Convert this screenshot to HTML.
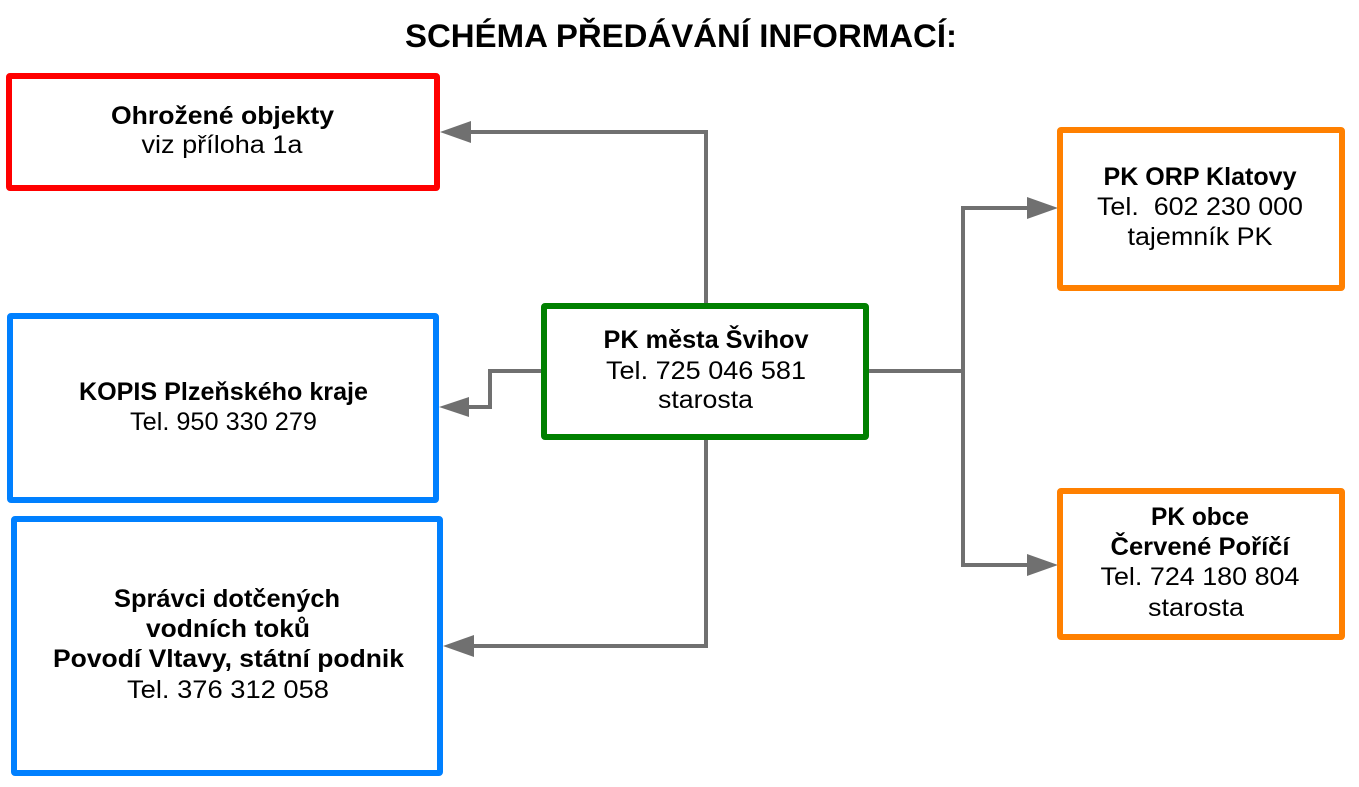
<!DOCTYPE html>
<html>
<head>
<meta charset="utf-8">
<style>
html,body{margin:0;padding:0;background:#fff;}
svg{display:block;}
text{font-family:"Liberation Sans","DejaVu Sans",sans-serif;fill:#000;}
.b{font-weight:bold;}
</style>
</head>
<body>
<svg width="1359" height="787" viewBox="0 0 1359 787" xmlns="http://www.w3.org/2000/svg">
<rect width="1359" height="787" fill="#fff"/>

<!-- Title -->
<text x="681" y="47" class="b" font-size="32" text-anchor="middle" textLength="552" lengthAdjust="spacingAndGlyphs">SCHÉMA PŘEDÁVÁNÍ INFORMACÍ:</text>

<!-- Connectors -->
<g stroke="#707070" stroke-width="4" fill="none" stroke-linejoin="miter">
  <path d="M706 303 V132 H470"/>
  <path d="M541 371 H490 V407 H468"/>
  <path d="M706 440 V646 H474"/>
  <path d="M869 371 H963"/>
  <path d="M963 208 V565"/>
  <path d="M961 208 H1028"/>
  <path d="M961 565 H1028"/>
</g>
<g fill="#707070">
  <polygon points="440,132 471,121 471,143"/>
  <polygon points="439,407 469,397 469,417"/>
  <polygon points="443,646 474,635 474,657"/>
  <polygon points="1058,208 1027,197 1027,219"/>
  <polygon points="1058,565 1027,554 1027,576"/>
</g>

<!-- Boxes -->
<g fill="#fff" stroke-width="6">
  <rect x="9" y="76" width="428" height="112" rx="1" stroke="#ff0000"/>
  <rect x="10" y="316" width="426" height="184" rx="1" stroke="#0080ff"/>
  <rect x="14" y="519" width="426" height="254" rx="1" stroke="#0080ff"/>
  <rect x="544" y="306" width="322" height="131" rx="1" stroke="#008000"/>
  <rect x="1060" y="130" width="282" height="158" rx="1" stroke="#ff8000"/>
  <rect x="1060" y="491" width="282" height="146" rx="1" stroke="#ff8000"/>
</g>

<!-- Red box text -->
<text x="222.5" y="124" class="b" font-size="25" text-anchor="middle" textLength="223" lengthAdjust="spacingAndGlyphs">Ohrožené objekty</text>
<text x="222" y="153" font-size="25" text-anchor="middle" textLength="161" lengthAdjust="spacingAndGlyphs">viz příloha 1a</text>

<!-- Blue box 1 text -->
<text x="223.5" y="400" class="b" font-size="25" text-anchor="middle" textLength="289" lengthAdjust="spacingAndGlyphs">KOPIS Plzeňského kraje</text>
<text x="223.5" y="430" font-size="25" text-anchor="middle" textLength="187" lengthAdjust="spacingAndGlyphs">Tel. 950 330 279</text>

<!-- Blue box 2 text -->
<text x="227" y="607" class="b" font-size="25" text-anchor="middle" textLength="226" lengthAdjust="spacingAndGlyphs">Správci dotčených</text>
<text x="228" y="637" class="b" font-size="25" text-anchor="middle" textLength="164" lengthAdjust="spacingAndGlyphs">vodních toků</text>
<text x="228.5" y="667" class="b" font-size="25" text-anchor="middle" textLength="351" lengthAdjust="spacingAndGlyphs">Povodí Vltavy, státní podnik</text>
<text x="228" y="698" font-size="25" text-anchor="middle" textLength="202" lengthAdjust="spacingAndGlyphs">Tel. 376 312 058</text>

<!-- Green box text -->
<text x="706" y="348" class="b" font-size="25" text-anchor="middle" textLength="205" lengthAdjust="spacingAndGlyphs">PK města Švihov</text>
<text x="706" y="379" font-size="25" text-anchor="middle" textLength="200" lengthAdjust="spacingAndGlyphs">Tel. 725 046 581</text>
<text x="705.5" y="408" font-size="25" text-anchor="middle" textLength="95" lengthAdjust="spacingAndGlyphs">starosta</text>

<!-- Orange box 1 text -->
<text x="1200" y="185" class="b" font-size="25" text-anchor="middle" textLength="193" lengthAdjust="spacingAndGlyphs">PK ORP Klatovy</text>
<text x="1200" y="215" font-size="25" text-anchor="middle" textLength="206" lengthAdjust="spacingAndGlyphs">Tel.&#160; 602 230 000</text>
<text x="1200" y="245" font-size="25" text-anchor="middle" textLength="145" lengthAdjust="spacingAndGlyphs">tajemník PK</text>

<!-- Orange box 2 text -->
<text x="1200" y="525" class="b" font-size="25" text-anchor="middle" textLength="98" lengthAdjust="spacingAndGlyphs">PK obce</text>
<text x="1200" y="555" class="b" font-size="25" text-anchor="middle" textLength="179" lengthAdjust="spacingAndGlyphs">Červené Poříčí</text>
<text x="1200" y="585" font-size="25" text-anchor="middle" textLength="199" lengthAdjust="spacingAndGlyphs">Tel. 724 180 804</text>
<text x="1196" y="616" font-size="25" text-anchor="middle" textLength="96" lengthAdjust="spacingAndGlyphs">starosta</text>
</svg>
</body>
</html>
